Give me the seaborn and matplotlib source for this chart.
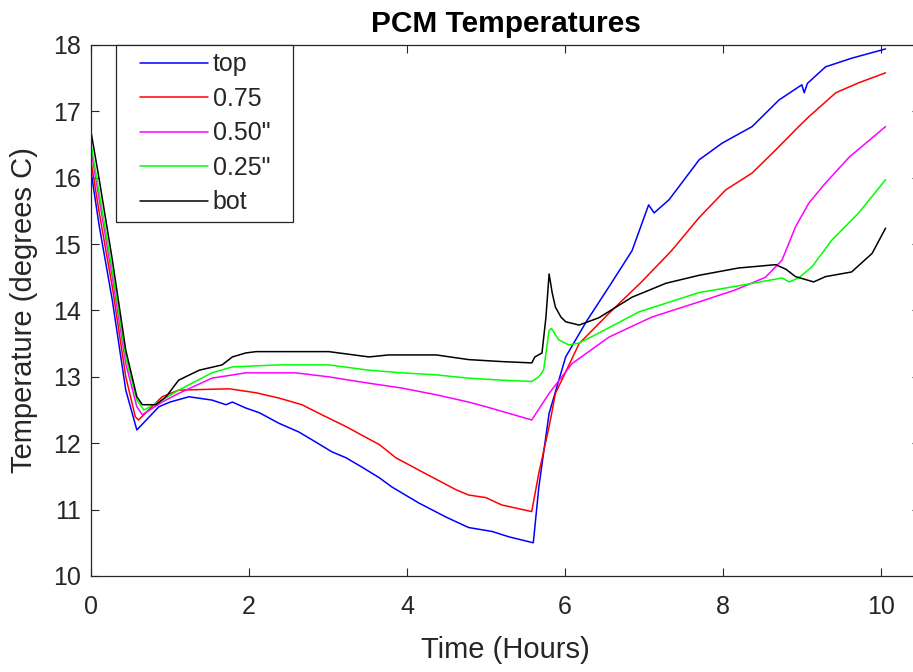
import pandas as pd
import matplotlib
matplotlib.use("Agg")
import matplotlib.pyplot as plt
from matplotlib.lines import Line2D
from matplotlib.legend_handler import HandlerLine2D
import seaborn as sns

# values (hours, degrees C)
top_t = [0, 0.1, 0.27, 0.44, 0.58, 0.7, 0.86, 1.0, 1.24, 1.53, 1.71, 1.79, 1.96, 2.13,
         2.38, 2.63, 2.8, 3.05, 3.23, 3.43, 3.65, 3.81, 4.15, 4.49, 4.78, 5.08, 5.29, 5.6,
         5.67, 5.8, 6.01, 6.27, 6.56, 6.85, 7.06, 7.13, 7.32, 7.7, 7.99, 8.37, 8.71, 9.0,
         9.03, 9.07, 9.3, 9.63, 10.06]
top_T = [16.1, 15.3, 14.15, 12.8, 12.2, 12.35, 12.55, 12.62, 12.7, 12.65, 12.58, 12.62,
         12.53, 12.46, 12.3, 12.17, 12.05, 11.87, 11.78, 11.64, 11.48, 11.34, 11.1, 10.89,
         10.73, 10.67, 10.59, 10.5, 11.34, 12.45, 13.3, 13.83, 14.36, 14.9, 15.59, 15.47,
         15.67, 16.27, 16.52, 16.77, 17.17, 17.4, 17.28, 17.42, 17.67, 17.8, 17.94]

r75_t = [0, 0.1, 0.27, 0.44, 0.56, 0.6, 0.73, 0.9, 1.11, 1.75, 2.09, 2.38, 2.67, 2.92,
         3.23, 3.43, 3.65, 3.86, 4.19, 4.62, 4.78, 5.0, 5.2, 5.58, 5.67, 5.8, 5.88, 6.18,
         6.56, 6.97, 7.35, 7.7, 8.04, 8.37, 8.67, 8.96, 9.09, 9.43, 9.72, 10.06]
r75_T = [16.25, 15.5, 14.35, 13.0, 12.4, 12.35, 12.5, 12.7, 12.8, 12.82, 12.76, 12.68,
         12.58, 12.43, 12.25, 12.12, 11.98, 11.78, 11.57, 11.3, 11.22, 11.18, 11.07, 10.97,
         11.55, 12.25, 12.75, 13.5, 13.96, 14.43, 14.9, 15.4, 15.82, 16.07, 16.42, 16.77,
         16.92, 17.28, 17.43, 17.58]

r50_t = [0, 0.1, 0.27, 0.44, 0.58, 0.65, 0.9, 1.11, 1.53, 1.96, 2.59, 3.01, 3.43, 3.94,
         4.37, 4.78, 5.0, 5.58, 5.8, 6.09, 6.56, 7.1, 7.7, 8.16, 8.54, 8.75, 8.92, 9.09,
         9.3, 9.6, 10.06]
r50_T = [16.42, 15.7, 14.5, 13.2, 12.55, 12.43, 12.62, 12.75, 12.98, 13.06, 13.06, 13.0,
         12.92, 12.83, 12.73, 12.62, 12.55, 12.35, 12.75, 13.2, 13.6, 13.9, 14.13, 14.31,
         14.5, 14.76, 15.26, 15.62, 15.92, 16.31, 16.77]

r25_t = [0, 0.1, 0.27, 0.44, 0.58, 0.67, 0.9, 1.11, 1.53, 1.79, 2.38, 3.01, 3.52, 3.94,
         4.37, 4.78, 5.2, 5.58, 5.67, 5.73, 5.8, 5.83, 5.92, 6.05, 6.18, 6.43, 6.94, 7.7,
         8.24, 8.75, 8.84, 8.96, 9.13, 9.38, 9.72, 10.06]
r25_T = [16.5, 15.8, 14.6, 13.3, 12.65, 12.5, 12.65, 12.8, 13.06, 13.15, 13.18, 13.18,
         13.1, 13.06, 13.03, 12.98, 12.95, 12.93, 13.0, 13.1, 13.7, 13.73, 13.56, 13.48,
         13.51, 13.66, 13.98, 14.27, 14.38, 14.49, 14.43, 14.49, 14.66, 15.06, 15.47, 15.97]

bot_t = [0, 0.1, 0.27, 0.44, 0.58, 0.65, 0.82, 0.95, 1.11, 1.37, 1.66, 1.79, 1.96, 2.09,
         2.38, 3.01, 3.52, 3.77, 4.37, 4.78, 5.2, 5.58, 5.62, 5.71, 5.76, 5.8, 5.84, 5.88,
         5.95, 6.01, 6.18, 6.43, 6.85, 7.28, 7.7, 8.2, 8.67, 8.8, 8.92, 9.15, 9.3, 9.63,
         9.89, 10.06]
bot_T = [16.69, 16.0, 14.76, 13.4, 12.7, 12.58, 12.58, 12.7, 12.95, 13.1, 13.18, 13.3,
         13.36, 13.38, 13.38, 13.38, 13.3, 13.33, 13.33, 13.26, 13.23, 13.21, 13.3, 13.36,
         13.9, 14.55, 14.26, 14.05, 13.9, 13.83, 13.78, 13.89, 14.2, 14.41, 14.53, 14.64,
         14.69, 14.62, 14.51, 14.43, 14.51, 14.58, 14.86, 15.24]

labels = ["top", "0.75", '0.50"', '0.25"', "bot"]
colors = ["#0000ff", "#ff0000", "#ff00ff", "#00ff00", "#000000"]
series = [(top_t, top_T), (r75_t, r75_T), (r50_t, r50_T), (r25_t, r25_T), (bot_t, bot_T)]

frames = []
for lab, (t, T) in zip(labels, series):
    frames.append(pd.DataFrame({"time": t, "temp": T, "sensor": lab}))
df = pd.concat(frames, ignore_index=True)

sns.set_style("ticks")
plt.rcParams["font.family"] = ["Liberation Sans", "DejaVu Sans"]
grey = "#262626"

fig = plt.figure(figsize=(9.13, 6.72), dpi=100)
ax = fig.add_axes([0.0997, 0.1429, 0.9083, 0.7902])

sns.lineplot(data=df, x="time", y="temp", hue="sensor", hue_order=labels,
             palette=dict(zip(labels, colors)), sort=False, estimator=None,
             linewidth=1.1, ax=ax)

ax.set_xlim(0, 10.5)
ax.set_ylim(10, 18)
ax.set_xticks([0, 2, 4, 6, 8, 10])
ax.set_yticks(range(10, 19))
ax.tick_params(direction="in", length=6, width=0.8, top=True, right=True,
               labelsize=18, colors=grey)
ax.tick_params(axis="x", pad=14)
ax.tick_params(axis="y", pad=7)
for sp in ax.spines.values():
    sp.set_color(grey)
    sp.set_linewidth(0.9)

ax.set_xlabel("Time (Hours)", fontsize=21, color=grey, labelpad=12)
ax.set_ylabel("Temperature (degrees C)", fontsize=21, color=grey, labelpad=11)
ax.set_title("PCM Temperatures", fontsize=21.5, fontweight="bold", color="black", pad=9.5)

# legend: wide box, left aligned entries, like the MATLAB one
handles, labs = ax.get_legend_handles_labels()
leg = ax.legend(handles, labs, loc="upper left", bbox_to_anchor=(0.0305, 0.0, 0.2135, 1.0),
                mode="expand", borderaxespad=0, fontsize=18, frameon=True, fancybox=False,
                handlelength=4.0, handletextpad=-0.44, labelspacing=0.42, borderpad=0.3,
                handler_map={Line2D: HandlerLine2D(numpoints=2, marker_pad=0.64)})
leg.get_frame().set_edgecolor(grey)
leg.get_frame().set_linewidth(0.9)
leg.get_frame().set_alpha(1)

fig.savefig("out.png", dpi=100)
